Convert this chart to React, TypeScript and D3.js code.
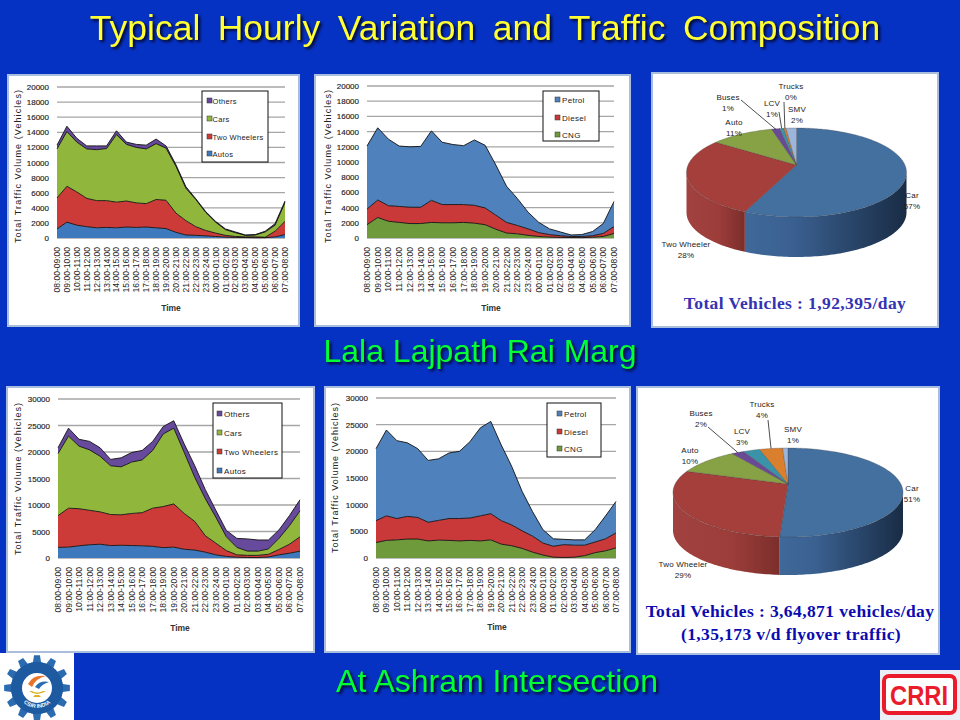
import * as d3 from "d3";

const hours = [
  "08:00-09:00", "09:00-10:00", "10:00-11:00", "11:00-12:00", "12:00-13:00", "13:00-14:00",
  "14:00-15:00", "15:00-16:00", "16:00-17:00", "17:00-18:00", "18:00-19:00", "19:00-20:00",
  "20:00-21:00", "21:00-22:00", "22:00-23:00", "23:00-24:00", "00:00-01:00", "01:00-02:00",
  "02:00-03:00", "03:00-04:00", "04:00-05:00", "05:00-06:00", "06:00-07:00", "07:00-08:00",
];

// Lala Lajpath Rai Marg, by vehicle type
const lalaAutos = [1200, 2100, 1700, 1500, 1350, 1400, 1350, 1450, 1400, 1450, 1350, 1250, 750, 400, 350, 280, 200, 120, 80, 60, 40, 40, 150, 450];
const lalaTwoWheelers = [4100, 4750, 4400, 3750, 3600, 3550, 3400, 3450, 3250, 3100, 3750, 3750, 2550, 1900, 1150, 720, 450, 230, 120, 90, 110, 60, 750, 1750];
const lalaCars = [6500, 7250, 6600, 6550, 6750, 6900, 8950, 7500, 7350, 7250, 7400, 6900, 6200, 4300, 3600, 2400, 1450, 750, 500, 200, 250, 700, 800, 2500];
const lalaOthers = [500, 700, 500, 400, 500, 350, 500, 300, 400, 500, 600, 300, 200, 200, 100, 100, 100, 100, 100, 50, 50, 100, 200, 200];

// Lala Lajpath Rai Marg, by fuel
const lalaCng = [1750, 2700, 2200, 2050, 1900, 1900, 2050, 2000, 2000, 2050, 1950, 1750, 1150, 650, 550, 350, 200, 120, 80, 60, 50, 100, 200, 600];
const lalaDiesel = [2050, 2300, 2050, 2100, 2150, 2150, 2900, 2400, 2400, 2350, 2350, 2200, 1850, 1400, 1100, 850, 500, 330, 220, 140, 150, 200, 400, 900];
const lalaPetrol = [8300, 9500, 8750, 7950, 7950, 8000, 9150, 8200, 7900, 7750, 8600, 8250, 6600, 4750, 3550, 2200, 1350, 750, 500, 200, 250, 550, 1300, 3300];

// Ashram Intersection, by vehicle type
const ashramAutos = [2000, 2050, 2300, 2500, 2600, 2350, 2400, 2350, 2300, 2200, 1950, 2050, 1650, 1500, 1100, 600, 300, 150, 100, 80, 200, 600, 900, 1300];
const ashramTwoWheelers = [6000, 7350, 7000, 6500, 6100, 5850, 5750, 6050, 6250, 7200, 7750, 8150, 6750, 5400, 3100, 2200, 1100, 450, 400, 420, 500, 1000, 1700, 2700];
const ashramCars = [11700, 13600, 11800, 11400, 10500, 9200, 9050, 9700, 9950, 10900, 13700, 14300, 11500, 8300, 7000, 4900, 2600, 1400, 800, 800, 1000, 2100, 3500, 4900];
const ashramOthers = [1100, 1500, 1300, 1600, 1600, 1200, 1700, 1800, 1800, 1700, 1400, 1400, 1600, 2200, 1700, 1300, 1200, 1700, 2300, 2100, 1700, 1600, 1900, 2100];

// Ashram Intersection, by fuel
const ashramCng = [2900, 3300, 3400, 3550, 3550, 3200, 3350, 3300, 3200, 3300, 3200, 3400, 2600, 2300, 1800, 1100, 550, 150, 100, 150, 450, 1000, 1350, 1900];
const ashramDiesel = [4100, 4600, 4000, 4250, 4050, 3500, 3700, 4100, 4200, 4200, 4700, 4900, 4400, 3900, 3300, 3000, 2250, 2050, 2400, 2250, 1950, 2000, 2250, 2800];
const ashramPetrol = [13500, 16100, 14600, 13800, 12900, 11600, 11550, 12300, 12600, 14300, 16500, 17300, 14200, 11000, 7400, 4600, 2500, 1400, 1000, 1000, 1000, 2300, 4300, 5900];

const pieCategories = ["Car", "Two Wheeler", "Auto", "Buses", "LCV", "Trucks", "SMV"];
const lalaShares = [56.6, 28.2, 10.9, 1.4, 0.7, 0.4, 1.8];
const ashramShares = [50.9, 29.1, 10.2, 2.1, 2.8, 3.9, 0.9];

const typeNames = ["Autos", "Two Wheelers", "Cars", "Others"];
const fuelNames = ["CNG", "Diesel", "Petrol"];

const typeColors = ["#3f79bd", "#cd3b38", "#90b63c", "#674a9c"];
const fuelColors = ["#6f9a3c", "#c9393a", "#4f81bd"];
const sliceColors = ["#44709f", "#a43f3c", "#87a245", "#6a4a94", "#3a93a8", "#d97f2e", "#9db5db"];
const carWall = ["#3f699a", "#3a6090", "#192c45"];
const twoWheelerWall = ["#a24240", "#9c3d3a", "#7b2e2b"];

const sans = "'Liberation Sans', Arial, sans-serif";
const serif = "'Liberation Serif', 'Times New Roman', serif";

type Box = { x: number; y: number; w: number; h: number };

interface AreaPanelProps {
  panel: Box;
  plot: { left: number; right: number; top: number; bottom: number };
  series: number[][];
  names: string[];
  colors: string[];
  yMax: number;
  yStep: number;
  legend: Box;
  swatchX: number;
  textX: number;
  legendY: number[];
  yTitleX: number;
  yTitleSpan: [number, number];
  timeX: number;
  timeY: number;
  fontSize: number;
}

function AreaPanel(p: AreaPanelProps) {
  const x = d3.scalePoint<string>().domain(hours).range([p.plot.left, p.plot.right]);
  const y = d3.scaleLinear().domain([0, p.yMax]).range([p.plot.bottom, p.plot.top]);
  const rows = hours.map((_, i) => Object.fromEntries(p.names.map((n, s) => [n, p.series[s][i]])));
  const stacked = d3.stack<Record<string, number>>().keys(p.names)(rows);
  const area = d3
    .area<d3.SeriesPoint<Record<string, number>>>()
    .x((_, i) => x(hours[i]) as number)
    .y0((d) => y(d[0]))
    .y1((d) => y(d[1]));
  const top = d3
    .line<d3.SeriesPoint<Record<string, number>>>()
    .x((_, i) => x(hours[i]) as number)
    .y((d) => y(d[1]));
  const ticks = d3.range(0, p.yMax + 1, p.yStep);

  return (
    <g fontFamily={sans}>
      <rect x={p.panel.x} y={p.panel.y} width={p.panel.w} height={p.panel.h} fill="#fff" stroke="#a9bedd" strokeWidth={2} />
      {ticks.map((t) => (
        <g key={t}>
          <line x1={p.plot.left} x2={p.plot.right} y1={y(t)} y2={y(t)} stroke="#a6a6a6" strokeWidth={1.3} />
          <text x={p.plot.left - 8} y={y(t) + 3} textAnchor="end" fontSize={8} fill="#222" stroke="#222" strokeWidth={0.15}>
            {t}
          </text>
        </g>
      ))}
      {stacked.map((s, i) => (
        <path key={s.key} d={area(s) ?? ""} fill={p.colors[i]} />
      ))}
      {stacked.map((s) => (
        <path key={s.key} d={top(s) ?? ""} fill="none" stroke="#111" strokeWidth={0.9} />
      ))}
      {hours.map((h) => (
        <text
          key={h}
          transform={`translate(${(x(h) as number) + 3}, ${p.plot.bottom + 9}) rotate(-90)`}
          textAnchor="end"
          fontSize={8.5}
          fill="#222"
        >
          {h}
        </text>
      ))}
      <rect x={p.legend.x} y={p.legend.y} width={p.legend.w} height={p.legend.h} fill="#fff" stroke="#111" strokeWidth={1} />
      {p.names
        .slice()
        .reverse()
        .map((n, i) => (
          <g key={n}>
            <rect
              x={p.swatchX}
              y={p.legendY[i] - 3}
              width={5}
              height={5}
              fill={p.colors[p.names.length - 1 - i]}
              stroke="#333"
              strokeWidth={0.5}
            />
            <text x={p.textX} y={p.legendY[i] + 3} fontSize={p.fontSize} letterSpacing={0.3} fill="#222">
              {n}
            </text>
          </g>
        ))}
      <text
        transform={`translate(${p.yTitleX}, ${(p.yTitleSpan[0] + p.yTitleSpan[1]) / 2}) rotate(-90)`}
        textAnchor="middle"
        fontSize={9}
        fill="#222"
        textLength={p.yTitleSpan[1] - p.yTitleSpan[0]}
        lengthAdjust="spacing"
      >
        Total Traffic Volume (Vehicles)
      </text>
      <text x={p.timeX} y={p.timeY} textAnchor="middle" fontSize={8.5} fontWeight="bold" fill="#333">
        Time
      </text>
    </g>
  );
}

interface PieProps {
  id: string;
  shares: number[];
  apex: [number, number];
  width: number;
  back: number;
  front: number;
  depth: number;
  labels: { x: number; y: number }[];
  leaders: { slice: number; from: [number, number]; r: number }[];
}

// Excel's tilted pie: a circle seen through a perspective, so the centre sits
// above the middle of the ellipse. k and s come from the back and front reach.
function Pie3D(p: PieProps) {
  const k = (p.front - p.back) / (p.front + p.back);
  const s = p.back * (1 + k);
  const r = p.width * Math.sqrt(1 - k * k);
  const project = (a: number, f = 1): [number, number] => {
    const d = 1 + k * Math.cos(a) * f;
    return [p.apex[0] + (r * Math.sin(a) * f) / d, p.apex[1] - (s * Math.cos(a) * f) / d];
  };
  const arcs = d3.pie<number>().sort(null).value((d) => d)(p.shares);
  const line = d3.line();
  const sample = (a0: number, a1: number) => {
    const n = Math.max(2, Math.ceil((a1 - a0) / 0.02));
    return d3.range(n + 1).map((i) => a0 + ((a1 - a0) * i) / n);
  };
  const frontLimit = Math.acos(-k); // angle where the rim turns to the viewer
  const walls = arcs
    .map((a, i) => {
      const a0 = Math.max(a.startAngle, frontLimit);
      const a1 = Math.min(a.endAngle, 2 * Math.PI - frontLimit);
      if (a1 <= a0) return null;
      const rim = sample(a0, a1).map((t) => project(t));
      const low = rim.map(([x, y]) => [x, y + p.depth] as [number, number]).reverse();
      const xs = d3.extent(rim, (d) => d[0]) as [number, number];
      return { i, d: line([...rim, ...low]) + "Z", x0: xs[0], x1: xs[1] };
    })
    .filter((w) => w !== null);

  return (
    <g fontFamily={sans}>
      <defs>
        {walls.map((w) => {
          const stops = w.i === 0 ? carWall : twoWheelerWall;
          return (
            <linearGradient key={w.i} id={`${p.id}-w${w.i}`} gradientUnits="userSpaceOnUse" x1={w.x0} x2={w.x1} y1={0} y2={0}>
              <stop offset="0" stopColor={stops[0]} />
              <stop offset={w.i === 0 ? "0.3" : "0.55"} stopColor={stops[1]} />
              <stop offset="1" stopColor={stops[2]} />
            </linearGradient>
          );
        })}
      </defs>
      {walls.map((w) => (
        <path key={w.i} d={w.d} fill={`url(#${p.id}-w${w.i})`} />
      ))}
      {arcs.map((a, i) => (
        <path
          key={i}
          d={line([p.apex, ...sample(a.startAngle, a.endAngle).map((t) => project(t))]) + "Z"}
          fill={sliceColors[i]}
          stroke="#3a3a3a"
          strokeOpacity={0.55}
          strokeWidth={0.5}
        />
      ))}
      {p.leaders.map((l) => {
        const a = arcs[l.slice];
        const end = project((a.startAngle + a.endAngle) / 2, l.r);
        return <line key={l.slice} x1={l.from[0]} y1={l.from[1]} x2={end[0]} y2={end[1]} stroke="#222" strokeWidth={0.8} />;
      })}
      {pieCategories.map((c, i) => (
        <g key={c} fontSize={8} fill="#222" textAnchor="middle" letterSpacing={0.2}>
          <text x={p.labels[i].x} y={p.labels[i].y}>{c}</text>
          <text x={p.labels[i].x} y={p.labels[i].y + 11}>{Math.round(p.shares[i])}%</text>
        </g>
      ))}
    </g>
  );
}

function CsirLogo() {
  const cx = 37;
  const cy = 688;
  const teeth = 12;
  const gear = d3.lineRadial<number>().curve(d3.curveLinearClosed)
    .angle((d) => d)
    .radius((_, i) => ([33, 33, 26, 26] as number[])[i % 4]);
  const angles = d3.range(teeth).flatMap((t) => {
    const a = (t * 2 * Math.PI) / teeth;
    const w = (2 * Math.PI) / teeth;
    return [a - w * 0.17, a + w * 0.17, a + w * 0.3, a + w * 0.7];
  });
  return (
    <g>
      <rect x={0} y={653} width={74} height={67} fill="#fff" />
      <g transform={`translate(${cx}, ${cy})`}>
        <path d={gear(angles) ?? ""} fill="#2b6cb0" />
        <circle r={26} fill="#1d5aa0" />
        <circle r={15} fill="#fff" />
        <path d="M-9,-4 Q-4,-14 9,-12 Q-1,-10 -5,-1 Z" fill="#e8742a" />
        <path d="M-2,-1 Q3,-8 12,-6 Q5,-4 2,1 Z" fill="#2b6cb0" />
        <path d="M-8,3 Q0,9 9,3 L6,3 Q0,6 -5,3 Z M-4,9 L4,9 L2,7 L-2,7 Z" fill="#d6b21f" />
        <path id="csir-ring" d="M-20,0 A20,20 0 0,0 20,0" fill="none" />
        <text fontFamily={sans} fontSize={5.5} fontWeight="bold" fill="#fff" textAnchor="middle">
          <textPath href="#csir-ring" startOffset="50%">CSIR INDIA</textPath>
        </text>
      </g>
    </g>
  );
}

function CrriLogo() {
  return (
    <g>
      <rect x={880} y={670} width={80} height={50} fill="#eceef6" />
      <rect x={884} y={676} width={71} height={37} rx={5} fill="#fff" stroke="#ea1c2c" strokeWidth={4} />
      <text x={919} y={705} textAnchor="middle" fontFamily={sans} fontWeight="bold" fontSize={27} fill="#ea1c2c" textLength={58} lengthAdjust="spacingAndGlyphs">
        CRRI
      </text>
    </g>
  );
}

// CSS text-shadow does nothing on svg text, a drop-shadow filter does
const headShadow = { filter: "drop-shadow(2.5px 2.5px 1.5px #05051f)" };

export default function App() {
  return (
    <svg width={960} height={720} viewBox="0 0 960 720" style={{ position: "fixed", left: 0, top: 0, background: "#0632c4" }}>
      <text x={485} y={40} textAnchor="middle" fontFamily={sans} fontSize={35.5} fill="#ffff33" wordSpacing={7.6} style={headShadow}>
        Typical Hourly Variation and Traffic Composition
      </text>

      <AreaPanel
        panel={{ x: 8, y: 75, w: 291, h: 251 }}
        plot={{ left: 57, right: 285, top: 87, bottom: 238 }}
        series={[lalaAutos, lalaTwoWheelers, lalaCars, lalaOthers]}
        names={typeNames}
        colors={typeColors}
        yMax={20000}
        yStep={2000}
        legend={{ x: 202, y: 91, w: 66, h: 71 }}
        swatchX={207}
        textX={212.5}
        legendY={[101, 119, 137, 154]}
        yTitleX={21}
        yTitleSpan={[90, 243]}
        timeX={171}
        timeY={311}
        fontSize={7.5}
      />
      <AreaPanel
        panel={{ x: 315, y: 75, w: 315, h: 251 }}
        plot={{ left: 367, right: 614, top: 86, bottom: 238 }}
        series={[lalaCng, lalaDiesel, lalaPetrol]}
        names={fuelNames}
        colors={fuelColors}
        yMax={20000}
        yStep={2000}
        legend={{ x: 543, y: 91, w: 56, h: 50 }}
        swatchX={555}
        textX={562}
        legendY={[100, 118, 135]}
        yTitleX={331}
        yTitleSpan={[90, 243]}
        timeX={491}
        timeY={311}
        fontSize={8}
      />
      <rect x={652} y={73} width={286} height={254} fill="#fff" stroke="#a9bedd" strokeWidth={2} />
      <Pie3D
        id="lala"
        shares={lalaShares}
        apex={[796.5, 165]}
        width={110}
        back={37}
        front={52}
        depth={40}
        labels={[
          { x: 912, y: 198 },
          { x: 686, y: 247 },
          { x: 734, y: 125 },
          { x: 728, y: 100 },
          { x: 772, y: 106 },
          { x: 791, y: 89 },
          { x: 797, y: 112 },
        ]}
        leaders={[
          { slice: 3, from: [741, 100], r: 0.98 },
          { slice: 4, from: [779, 112], r: 1 },
          { slice: 5, from: [784, 102], r: 1 },
        ]}
      />
      <text x={795} y={309} textAnchor="middle" fontFamily={serif} fontWeight="bold" fontSize={17.5} fill="#3333b3" letterSpacing={0.4}>
        Total Vehicles : 1,92,395/day
      </text>
      <text x={480} y={362} textAnchor="middle" fontFamily={sans} fontSize={32} fill="#0f3" style={headShadow}>
        Lala Lajpath Rai Marg
      </text>

      <AreaPanel
        panel={{ x: 7, y: 387, w: 307, h: 265 }}
        plot={{ left: 58, right: 300, top: 399, bottom: 558 }}
        series={[ashramAutos, ashramTwoWheelers, ashramCars, ashramOthers]}
        names={typeNames}
        colors={typeColors}
        yMax={30000}
        yStep={5000}
        legend={{ x: 213, y: 403, w: 69, h: 75 }}
        swatchX={217}
        textX={224}
        legendY={[414, 433, 452, 471]}
        yTitleX={21}
        yTitleSpan={[403, 555]}
        timeX={180}
        timeY={631}
        fontSize={8}
      />
      <AreaPanel
        panel={{ x: 325, y: 387, w: 305, h: 265 }}
        plot={{ left: 376, right: 616, top: 398, bottom: 558 }}
        series={[ashramCng, ashramDiesel, ashramPetrol]}
        names={fuelNames}
        colors={fuelColors}
        yMax={30000}
        yStep={5000}
        legend={{ x: 547, y: 403, w: 54, h: 54 }}
        swatchX={557}
        textX={564}
        legendY={[414, 432, 449]}
        yTitleX={338}
        yTitleSpan={[403, 553]}
        timeX={497}
        timeY={630}
        fontSize={8}
      />
      <rect x={637} y={387} width={302} height={267} fill="#fff" stroke="#a9bedd" strokeWidth={2} />
      <Pie3D
        id="ashram"
        shares={ashramShares}
        apex={[788, 484]}
        width={115}
        back={36}
        front={53}
        depth={38}
        labels={[
          { x: 912, y: 491 },
          { x: 683, y: 567 },
          { x: 690, y: 453 },
          { x: 701, y: 416 },
          { x: 742, y: 434 },
          { x: 762, y: 407 },
          { x: 793, y: 432 },
        ]}
        leaders={[
          { slice: 3, from: [708, 427], r: 1 },
          { slice: 5, from: [768, 420], r: 1 },
        ]}
      />
      <text x={790} y={617} textAnchor="middle" fontFamily={serif} fontWeight="bold" fontSize={17.5} fill="#0b0bb0" letterSpacing={0.4}>
        Total Vehicles : 3,64,871 vehicles/day
      </text>
      <text x={791} y={640} textAnchor="middle" fontFamily={serif} fontWeight="bold" fontSize={17.5} fill="#0b0bb0" letterSpacing={0.4}>
        (1,35,173 v/d flyover traffic)
      </text>

      <text x={497} y={692} textAnchor="middle" fontFamily={sans} fontSize={32} fill="#0f3" style={headShadow}>
        At Ashram Intersection
      </text>
      <CsirLogo />
      <CrriLogo />
    </svg>
  );
}
